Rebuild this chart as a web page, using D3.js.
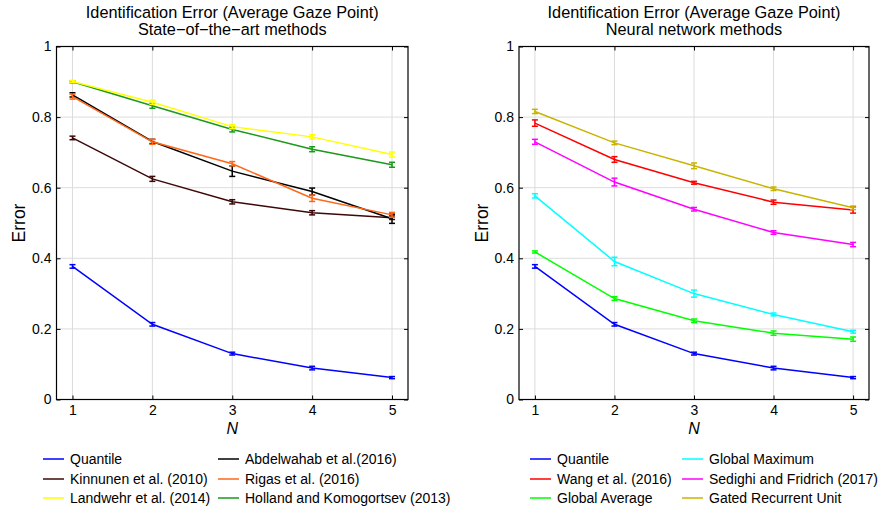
<!DOCTYPE html>
<html><head><meta charset="utf-8">
<script src="https://cdn.jsdelivr.net/npm/d3@7"></script>
<style>body{margin:0;background:#fff}svg{display:block}text{font-family:"Liberation Sans",Arial,sans-serif;fill:#000}</style>
</head><body>
<script>
const xValues = [1, 2, 3, 4, 5];
const yTicks = [0, 0.2, 0.4, 0.6, 0.8, 1];

// Left panel: state-of-the-art methods
const leftNames = ["Quantile", "Kinnunen et al. (2010)", "Landwehr et al. (2014)", "Abdelwahab et al.(2016)", "Rigas et al. (2016)", "Holland and Komogortsev (2013)"];
const leftColors = ["#0000ff", "#3c0808", "#ffff00", "#000000", "#ff6619", "#1a991a"];
const quantile = [0.377, 0.213, 0.130, 0.089, 0.062];
const quantileErr = [0.005, 0.005, 0.004, 0.005, 0.003];
const kinnunen = [0.741, 0.625, 0.560, 0.529, 0.515];
const kinnunenErr = [0.005, 0.007, 0.006, 0.006, 0.005];
const landwehr = [0.901, 0.842, 0.773, 0.744, 0.694];
const landwehrErr = [0.003, 0.006, 0.006, 0.006, 0.007];
const abdelwahab = [0.863, 0.731, 0.647, 0.589, 0.512];
const abdelwahabErr = [0.006, 0.006, 0.015, 0.010, 0.013];
const rigas = [0.858, 0.730, 0.668, 0.570, 0.523];
const rigasErr = [0.007, 0.007, 0.006, 0.009, 0.007];
const holland = [0.900, 0.832, 0.765, 0.709, 0.665];
const hollandErr = [0.003, 0.007, 0.007, 0.007, 0.007];

// Right panel: neural network methods
const rightNames = ["Quantile", "Wang et al. (2016)", "Global Average", "Global Maximum", "Sedighi and Fridrich (2017)", "Gated Recurrent Unit"];
const rightColors = ["#0000ff", "#ff0000", "#00ff00", "#00ffff", "#ff00ff", "#c8b400"];
const wang = [0.783, 0.680, 0.614, 0.559, 0.537];
const wangErr = [0.009, 0.008, 0.004, 0.006, 0.009];
const globalAverage = [0.418, 0.286, 0.223, 0.188, 0.171];
const globalAverageErr = [0.003, 0.005, 0.005, 0.006, 0.006];
const globalMaximum = [0.577, 0.391, 0.300, 0.241, 0.192];
const globalMaximumErr = [0.006, 0.012, 0.010, 0.004, 0.004];
const sedighi = [0.730, 0.616, 0.539, 0.473, 0.439];
const sedighiErr = [0.007, 0.011, 0.005, 0.005, 0.006];
const gru = [0.816, 0.727, 0.662, 0.597, 0.543];
const gruErr = [0.006, 0.005, 0.008, 0.005, 0.005];

const titleLine1 = "Identification Error (Average Gaze Point)";
const leftTitle = "State\u2212of\u2212the\u2212art methods";
const rightTitle = "Neural network methods";

const leftSeries = [quantile, kinnunen, landwehr, abdelwahab, rigas, holland];
const leftErrs = [quantileErr, kinnunenErr, landwehrErr, abdelwahabErr, rigasErr, hollandErr];
const rightSeries = [quantile, wang, globalAverage, globalMaximum, sedighi, gru];
const rightErrs = [quantileErr, wangErr, globalAverageErr, globalMaximumErr, sedighiErr, gruErr];
// draw order (back to front)
const leftOrder = [0, 1, 3, 4, 5, 2];
const rightOrder = [0, 2, 3, 4, 1, 5];

const svg = d3.select("body").append("svg").attr("width", 881).attr("height", 510);

function panel(x0, x1, title2, series, errs, names, colors, order, leg) {
  const top = 46.5, bottom = 399.5;
  const x = d3.scaleLinear().domain([0.8, 5.2]).range([x0, x1]);
  const y = d3.scaleLinear().domain([0, 1]).range([bottom, top]);
  const g = svg.append("g");
  // grid
  g.append("g").selectAll("line").data(xValues).join("line")
    .attr("x1", d => x(d)).attr("x2", d => x(d)).attr("y1", top).attr("y2", bottom)
    .attr("stroke", "#dcdcdc").attr("stroke-width", 1);
  g.append("g").selectAll("line").data(yTicks).join("line")
    .attr("x1", x0).attr("x2", x1).attr("y1", d => y(d)).attr("y2", d => y(d))
    .attr("stroke", "#dcdcdc").attr("stroke-width", 1);
  // axes
  const ax = g.append("g").attr("transform", `translate(0,${bottom})`)
    .call(d3.axisBottom(x).tickValues(xValues).tickFormat(d3.format("d")).tickSizeInner(-4).tickSizeOuter(0).tickPadding(6));
  const ay = g.append("g").attr("transform", `translate(${x0},0)`)
    .call(d3.axisLeft(y).tickValues(yTicks).tickFormat(d => d === 0 || d === 1 ? d3.format("d")(d) : d3.format(".1f")(d)).tickSizeInner(-4).tickSizeOuter(0).tickPadding(5));
  g.append("g").attr("transform", `translate(0,${top})`)
    .call(d3.axisTop(x).tickValues(xValues).tickFormat("").tickSizeInner(-4).tickSizeOuter(0));
  g.append("g").attr("transform", `translate(${x1},0)`)
    .call(d3.axisRight(y).tickValues(yTicks).tickFormat("").tickSizeInner(-4).tickSizeOuter(0));
  g.selectAll(".domain").remove();
  g.selectAll(".tick line").attr("stroke", "#000");
  [ax, ay].forEach(a => a.selectAll("text").attr("font-size", 14).attr("font-family", "Liberation Sans, Arial, sans-serif").style("fill", "#000"));
  g.append("rect").attr("x", x0).attr("y", top).attr("width", x1 - x0).attr("height", bottom - top)
    .attr("fill", "none").attr("stroke", "#000").attr("stroke-width", 1.2);
  // series
  const line = d3.line().x((d, i) => x(xValues[i])).y(d => y(d));
  order.forEach(k => {
    const s = series[k], e = errs[k], c = colors[k];
    const sg = g.append("g");
    sg.append("path").datum(s).attr("d", line).attr("fill", "none").attr("stroke", c).attr("stroke-width", 1.5);
    const eb = sg.selectAll("g.eb").data(s).join("g");
    eb.append("line").attr("x1", (d, i) => x(xValues[i])).attr("x2", (d, i) => x(xValues[i]))
      .attr("y1", (d, i) => y(d - e[i])).attr("y2", (d, i) => y(d + e[i])).attr("stroke", c).attr("stroke-width", 1.5);
    [-1, 1].forEach(sgn => {
      eb.append("line").attr("x1", (d, i) => x(xValues[i]) - 3).attr("x2", (d, i) => x(xValues[i]) + 3)
        .attr("y1", (d, i) => y(d + sgn * e[i])).attr("y2", (d, i) => y(d + sgn * e[i])).attr("stroke", c).attr("stroke-width", 1.5);
    });
  });
  // titles
  const cx = (x0 + x1) / 2;
  svg.append("text").attr("x", cx).attr("y", 18.3).attr("text-anchor", "middle").attr("font-size", 16.3).text(titleLine1);
  svg.append("text").attr("x", cx).attr("y", 35).attr("text-anchor", "middle").attr("font-size", 16.3).text(title2);
  svg.append("text").attr("x", cx).attr("y", 434).attr("text-anchor", "middle").attr("font-size", 16).attr("font-style", "italic").text("N");
  svg.append("text").attr("transform", `translate(${x0 - 31.5},223) rotate(-90)`).attr("text-anchor", "middle").attr("font-size", 17.5).text("Error");
  // legend
  const rows = [459, 479, 498];
  names.forEach((n, i) => {
    const col = i < 3 ? 0 : 1; const r = i % 3;
    const lx = leg[col];
    svg.append("line").attr("x1", lx).attr("x2", lx + 21).attr("y1", rows[r]).attr("y2", rows[r]).attr("stroke", colors[i]).attr("stroke-width", 1.5);
    svg.append("text").attr("x", lx + 27).attr("y", rows[r]).attr("dy", "0.35em").attr("font-size", 14).text(n);
  });
}

panel(56.5, 408, leftTitle, leftSeries, leftErrs, leftNames, leftColors, leftOrder, [43, 218]);
panel(519, 869, rightTitle, rightSeries, rightErrs, rightNames, rightColors, rightOrder, [530, 682]);
</script>
</body></html>
